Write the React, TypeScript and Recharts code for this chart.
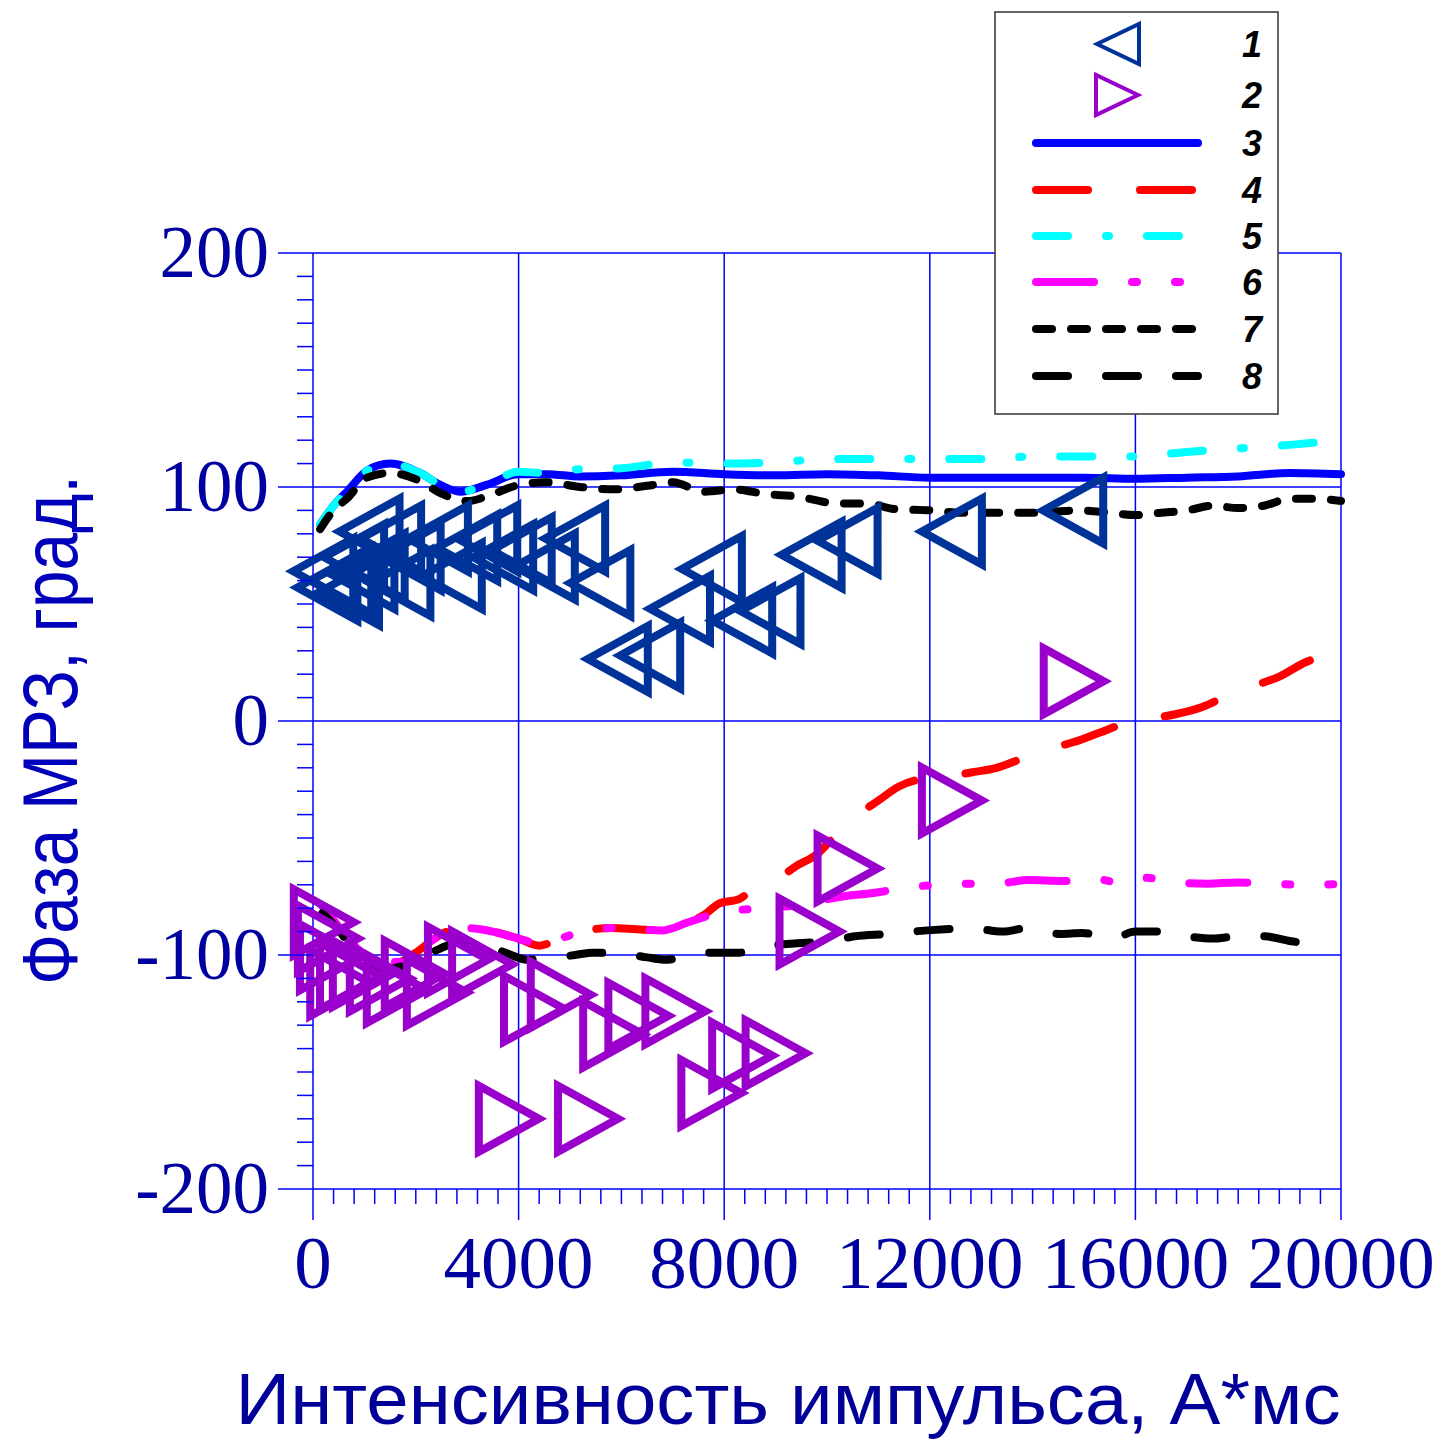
import { ComposedChart, Line, Scatter, XAxis, YAxis, ReferenceLine } from 'recharts';

// axis ticks
const xTicks = [0, 4000, 8000, 12000, 16000, 20000];
const yTicks = [-200, -100, 0, 100, 200];
const xMinor = Array.from({ length: 51 }, (_, i) => i * 400);
const yMinor = Array.from({ length: 41 }, (_, i) => -200 + i * 10);

// 1 - measured phase, left triangles
const series1 = [
  [200, 64], [280, 57], [550, 60], [700, 55], [800, 70], [1000, 62], [1100, 81], [1200, 66],
  [1520, 78], [1700, 59], [1900, 70], [2430, 78], [2700, 62], [3000, 74], [3390, 78], [3700, 70],
  [4060, 73], [4510, 66], [5100, 78], [5590, 59], [5930, 26.5], [6560, 28], [7140, 48], [7760, 65],
  [8350, 43], [8900, 47], [9700, 71], [10400, 77], [12430, 81], [14790, 90],
];
// 2 - measured phase, right triangles
const series2 = [
  [210, -86], [290, -93], [330, -101], [530, -112], [720, -109], [970, -108], [1300, -110],
  [1630, -115], [1980, -108], [2410, -116], [2820, -102], [3290, -104], [3810, -170], [4300, -123],
  [4820, -117], [5350, -170], [5840, -134], [6330, -126], [7050, -124], [7750, -159], [8350, -143],
  [9000, -142], [9660, -90], [10400, -63], [12430, -34], [14800, 17],
];
// 3..8 - calculated curves
const series3 = [
  [140, 84], [400, 92], [660, 98], [1050, 107], [1500, 110], [2080, 106], [2470, 101], [2860, 98],
  [3390, 101], [3990, 105.5], [4550, 105.5], [5200, 104.5], [6000, 105], [7000, 106.5], [8000, 105.5],
  [9000, 105], [10000, 105.5], [11000, 105], [12000, 104], [13000, 104], [14000, 104], [15000, 104],
  [16000, 103.5], [17000, 104], [18000, 104.5], [19000, 106], [20000, 105.5],
];
const series4 = [
  [180, -79], [500, -88], [900, -98], [1300, -102], [1650, -103], [2000, -99], [2300, -94], [2600, -90],
  [3000, -88.5], [3500, -90], [4000, -93], [4400, -96], [4800, -93], [5300, -89.5], [5800, -88.5],
  [6300, -89], [6800, -89.5], [7200, -87], [7600, -83], [7900, -78], [8300, -76], [8600, -71],
  [9000, -68], [9400, -62], [9800, -57], [10200, -48], [10600, -40], [11000, -34], [11400, -28],
  [11800, -25], [12300, -24], [12800, -22], [13300, -20], [13800, -16], [14300, -12], [14800, -9],
  [15300, -5], [15800, -1], [16300, 1], [16800, 3], [17300, 6], [17800, 11], [18300, 15], [18800, 19],
  [19300, 25], [20000, 30],
];
const series5 = [
  [140, 84], [400, 92], [660, 98], [1050, 107], [1500, 110], [2080, 106], [2470, 101], [2860, 98],
  [3390, 101], [3990, 106.5], [4550, 106], [5100, 107.5], [6000, 108], [7000, 110.5], [8000, 110],
  [9000, 110.5], [10000, 112], [11000, 112], [12000, 112], [13000, 112], [14000, 113], [15000, 113],
  [16000, 113], [17000, 115], [18000, 116.5], [19000, 118], [20000, 120],
];
const series6 = [
  [180, -79], [500, -88], [900, -98], [1300, -102], [1650, -103], [2000, -99], [2300, -94], [2600, -90],
  [3000, -88.5], [3500, -90], [4000, -93], [4400, -95], [4800, -93], [5300, -89.5], [5800, -88.5],
  [6300, -89], [6800, -89.5], [7300, -86], [7900, -82], [8700, -80], [9300, -79], [9800, -77],
  [10300, -75], [10900, -73.5], [11600, -71], [12200, -70], [12800, -69.5], [13300, -69.5],
  [13900, -68], [14600, -68.4], [15200, -67.5], [15700, -69], [16200, -67], [16800, -69],
  [17400, -69.5], [18000, -69], [18600, -69.5], [19300, -70], [20000, -69.7],
];
const series7 = [
  [140, 82], [400, 90], [660, 95], [1050, 104], [1500, 106], [2080, 102.6], [2470, 97.5], [3000, 94],
  [3500, 97], [4030, 101], [4550, 102], [5200, 100], [5840, 99], [6500, 100.5], [7000, 102], [7600, 98],
  [8200, 99], [8800, 97], [9400, 96], [10200, 93], [10800, 93], [11300, 90.6], [12000, 90], [12600, 89],
  [13300, 89], [14000, 89], [14900, 90], [15500, 89], [16000, 88], [16500, 89], [17000, 90], [17500, 92],
  [18000, 91], [18500, 92], [19000, 95], [19500, 95], [20000, 94],
];
const series8 = [
  [180, -82], [450, -88], [660, -94], [900, -100], [1100, -103], [1400, -106], [1700, -105], [2000, -102],
  [2300, -99], [2600, -96], [2900, -94], [3200, -95], [3500, -97], [3800, -99.5], [4160, -102],
  [4750, -101], [5100, -100], [5450, -99], [6070, -99.6], [6500, -101], [6850, -102], [7200, -101],
  [7780, -99], [8300, -99], [8930, -96], [9420, -95], [10060, -94], [10540, -92], [11170, -91],
  [11650, -90], [12300, -89], [12780, -88.5], [13420, -90], [13900, -88.5], [14540, -91], [14960, -90.6],
  [15570, -92.7], [16000, -90], [16500, -90], [17000, -92], [17500, -93], [18000, -92], [18500, -92],
  [19000, -94], [19700, -96],
];

const toPts = (arr: number[][]) => arr.map(([x, y]) => ({ x, y }));

const TRI1 = '#003399';
const TRI2 = '#9900cc';
const GRID = '#0000ff';
const LABEL = '#0000a0';

const lines = [
  { id: '3', data: series3, color: '#0000ff', dash: undefined },
  { id: '4', data: series4, color: '#ff0000', dash: '52 52' },
  { id: '5', data: series5, color: '#00ffff', dash: '32 38 3 38' },
  { id: '6', data: series6, color: '#ff00ff', dash: '58 38 5 38 5 38' },
  { id: '7', data: series7, color: '#000000', dash: '16 19' },
  { id: '8', data: series8, color: '#000000', dash: '32 38' },
];

const LeftTri = (p: any) => (
  <polygon
    points={`${p.cx - 30},${p.cy} ${p.cx + 30},${p.cy - 33} ${p.cx + 30},${p.cy + 33}`}
    fill="none" stroke={TRI1} strokeWidth={8}
  />
);
const RightTri = (p: any) => (
  <polygon
    points={`${p.cx + 30},${p.cy} ${p.cx - 30},${p.cy - 33} ${p.cx - 30},${p.cy + 33}`}
    fill="none" stroke={TRI2} strokeWidth={8}
  />
);

const YTick = ({ x, y, payload }: any) => {
  const major = yTicks.includes(payload.value);
  return (
    <g>
      <line x1={x} x2={x - (major ? 35 : 16)} y1={y} y2={y} stroke={GRID} strokeWidth={1.5} />
      {major && (
        <text x={x - 44} y={y + 24} textAnchor="end" fill={LABEL}
          style={{ fontFamily: '"Liberation Serif", serif', fontSize: 73 }}>
          {payload.value}
        </text>
      )}
    </g>
  );
};

const XTick = ({ x, y, payload }: any) => {
  const major = xTicks.includes(payload.value);
  return (
    <g>
      <line x1={x} x2={x} y1={y} y2={y + (major ? 31 : 15)} stroke={GRID} strokeWidth={1.5} />
      {major && (
        <text x={x} y={y + 99} textAnchor="middle" fill={LABEL}
          style={{ fontFamily: '"Liberation Serif", serif', fontSize: 75 }}>
          {payload.value}
        </text>
      )}
    </g>
  );
};

function LegendBox() {
  const rowY = [44, 95, 143, 190, 236, 282, 329, 376];
  return (
    <g>
      <rect x={995} y={12} width={283} height={402} fill="#fff" stroke="#333" strokeWidth={1.5} />
      <polygon points="1097,44 1139,24 1139,64" fill="none" stroke={TRI1} strokeWidth={4} />
      <polygon points="1138,95 1096,75 1096,115" fill="none" stroke={TRI2} strokeWidth={4} />
      {lines.map((l, i) => (
        <line key={l.id} x1={1036} x2={1198} y1={rowY[i + 2]} y2={rowY[i + 2]} stroke={l.color}
          strokeWidth={8} strokeLinecap="round" strokeDasharray={l.dash} />
      ))}
      {rowY.map((y, i) => (
        <text key={i} x={1252} y={y + 13} textAnchor="middle"
          style={{ fontFamily: '"Liberation Sans", Arial, sans-serif', fontSize: 36, fontStyle: 'italic', fontWeight: 700 }}>
          {i + 1}
        </text>
      ))}
    </g>
  );
}

export default function App() {
  return (
    <div style={{ position: 'relative', width: 1441, height: 1448, margin: -8, background: '#fff' }}>
      <ComposedChart width={1441} height={1448} margin={{ top: 253, right: 100, bottom: 0, left: 0 }}>
        <XAxis type="number" dataKey="x" domain={[0, 20000]} ticks={xMinor} interval={0}
          tick={<XTick />} tickLine={false} axisLine={false} tickSize={0} tickMargin={0} height={259} />
        <YAxis type="number" dataKey="y" domain={[-200, 200]} ticks={yMinor} interval={0}
          tick={<YTick />} tickLine={false} axisLine={false} tickSize={0} tickMargin={0} width={313} />
        {xTicks.map((v) => (
          <ReferenceLine key={'vx' + v} x={v} stroke={GRID} strokeWidth={1.5} />
        ))}
        {yTicks.map((v) => (
          <ReferenceLine key={'hy' + v} y={v} stroke={GRID} strokeWidth={1.5} />
        ))}
        <Scatter data={toPts(series1)} shape={LeftTri} isAnimationActive={false} />
        <Scatter data={toPts(series2)} shape={RightTri} isAnimationActive={false} />
        {lines.map((l) => (
          <Line key={l.id} data={toPts(l.data)} dataKey="y" type="monotone" stroke={l.color}
            strokeWidth={8} strokeLinecap="round" strokeDasharray={l.dash} dot={false}
            activeDot={false} isAnimationActive={false} />
        ))}
      </ComposedChart>
      <svg width={1441} height={1448} style={{ position: 'absolute', left: 0, top: 0, pointerEvents: 'none' }}>
        <text x={788} y={1424} textAnchor="middle" fill="#000099" textLength={1105} lengthAdjust="spacingAndGlyphs"
          style={{ fontFamily: '"Liberation Sans", Arial, sans-serif', fontSize: 72 }}>
          Интенсивность импульса, А*мс
        </text>
        <text transform="translate(77,730) rotate(-90)" x={0} y={0} textAnchor="middle" fill="#0000bb"
          textLength={510} lengthAdjust="spacingAndGlyphs"
          style={{ fontFamily: '"Liberation Sans", Arial, sans-serif', fontSize: 78 }}>
          Фаза МРЗ, град.
        </text>
        <LegendBox />
      </svg>
    </div>
  );
}
